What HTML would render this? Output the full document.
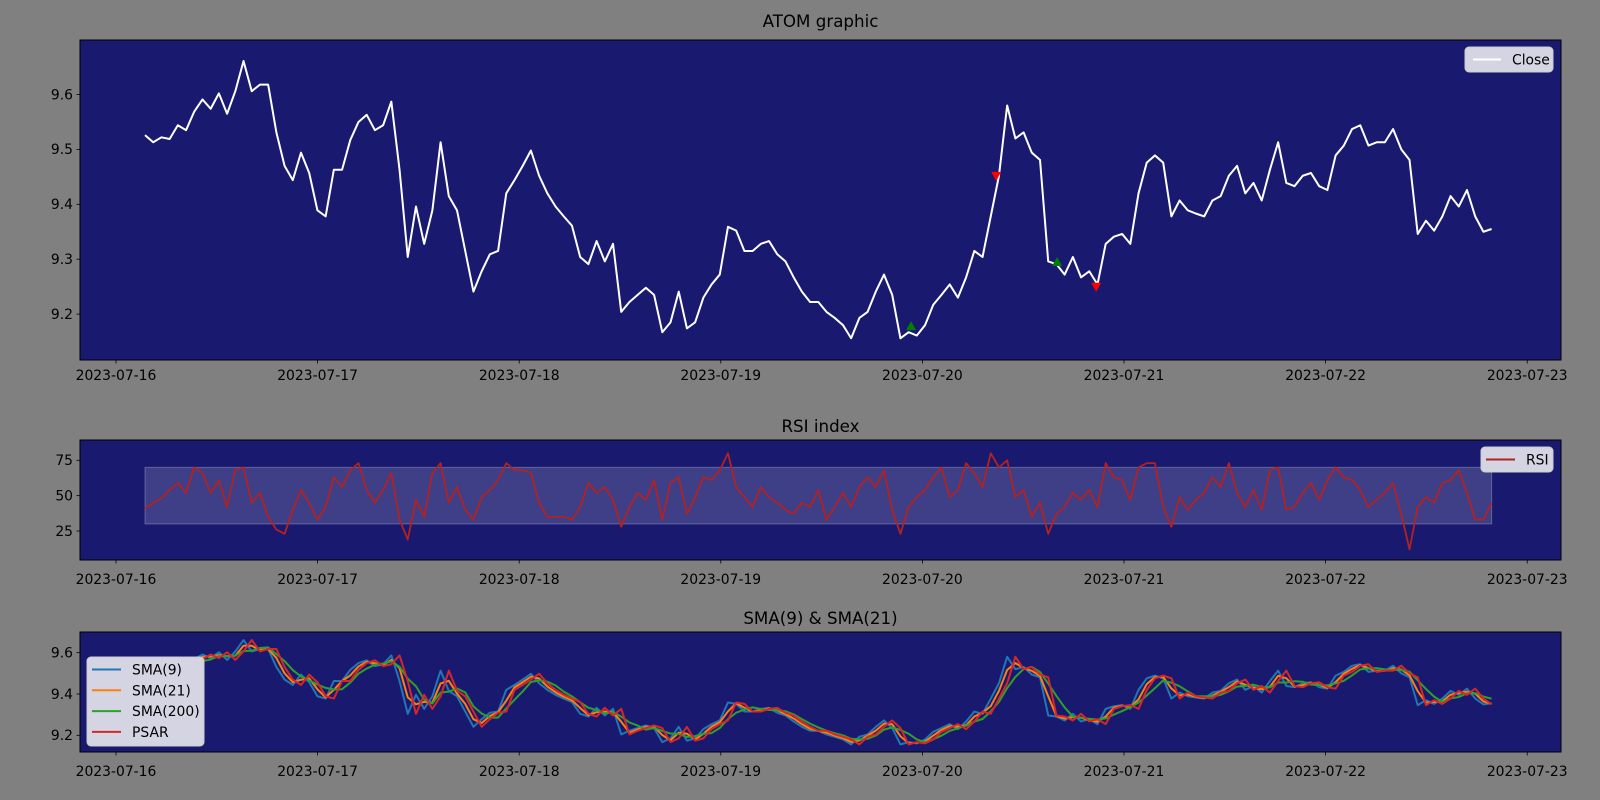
<!DOCTYPE html>
<html><head><meta charset="utf-8">
<style>
html,body{margin:0;padding:0;background:#808080;}
svg{display:block;font-family:"DejaVu Sans","Liberation Sans",sans-serif;}
</style></head>
<body>
<svg id="chart" width="1600" height="800" viewBox="0 0 1600 800" xmlns="http://www.w3.org/2000/svg">
<rect x="0" y="0" width="1600" height="800" fill="#808080"/>
</svg>
<script>
const dayLabels = ["2023-07-16","2023-07-17","2023-07-18","2023-07-19","2023-07-20","2023-07-21","2023-07-22","2023-07-23"];
const priceTicks = [9.2,9.3,9.4,9.5,9.6];
const smaTicks = [9.2,9.4,9.6];
const rsiTicks = [25,50,75];
const startDay = 0.1438;
const stepDay = 0.04073;
const closeValues = [9.526,9.513,9.522,9.519,9.544,9.535,9.569,9.591,9.574,9.602,9.565,9.606,9.661,9.606,9.618,9.618,9.531,9.470,9.444,9.494,9.457,9.389,9.378,9.463,9.463,9.517,9.550,9.563,9.535,9.544,9.587,9.463,9.304,9.396,9.328,9.389,9.513,9.415,9.389,9.315,
9.241,9.278,9.309,9.315,9.420,9.444,9.470,9.498,9.452,9.420,
9.396,9.378,9.361,9.304,9.291,9.333,9.296,9.328,9.204,9.222,
9.235,9.248,9.235,9.167,9.185,9.241,9.174,9.185,9.230,9.254,
9.272,9.359,9.352,9.315,9.315,9.328,9.333,9.309,9.296,9.267,
9.241,9.222,9.222,9.204,9.193,9.180,9.156,9.193,9.204,9.241,
9.272,9.235,9.156,9.167,9.161,9.180,9.217,9.235,9.254,9.230,
9.267,9.315,9.304,9.378,9.452,9.580,9.520,9.531,9.494,9.481,
9.296,9.291,9.272,9.304,9.267,9.278,9.254,9.328,9.341,9.346,
9.328,9.420,9.476,9.489,9.476,9.378,9.407,9.389,9.383,9.378,
9.407,9.415,9.452,9.470,9.420,9.439,9.407,9.463,9.513,9.439,
9.433,9.452,9.457,9.433,9.426,9.489,9.507,9.537,9.544,9.507,
9.513,9.513,9.537,9.500,9.481,9.346,9.370,9.352,9.378,9.415,
9.396,9.426,9.378,9.350,9.355];
const rsiValues = [41,45,48,54,59,52,70,66,52,61,42,68,70,45,52,35,26,23,40,54,45,33,42,63,56,68,73,54,45,54,66,33,19,47,35,66,73,45,56,40,
33,49,54,61,73,68,68,66,45,35,35,35,33,42,59,52,56,47,28,42,52,47,61,33,59,63,37,49,63,61,68,80,56,49,42,56,49,45,40,37,45,42,54,
33,42,52,42,56,63,56,68,40,23,42,49,54,63,70,49,54,73,66,56,80,70,75,49,54,35,45,23,37,42,52,47,54,42,73,63,61,47,70,73,73,42,28,49,40,47,52,63,56,73,52,42,54,40,68,70,40,42,52,59,47,61,70,63,61,54,42,47,52,59,37,12,42,49,45,59,61,68,52,33,33,45];
const sellSignalDays = [4.366, 4.862];
const sellSignalValues = [9.450, 9.248];
const buySignalDays = [3.9440, 4.6682];
const buySignalValues = [9.178, 9.295];

const NS = "http://www.w3.org/2000/svg";
const svg = document.getElementById('chart');
function mk(tag, attrs, parent){ const e=document.createElementNS(NS,tag); for(const k in attrs) e.setAttribute(k,attrs[k]); (parent||svg).appendChild(e); return e; }
const X0=80, X1=1561;
function xDay(d){ return 116 + d*201.6; }
function tOf(i){ return startDay + i*stepDay; }
const p1 = {top:40,bottom:360,y:v=>94.5+(9.6-v)*549};
const p2 = {top:440,bottom:560,y:r=>460.3+(75-r)*1.414};
const p3 = {top:632,bottom:752,y:v=>652.7+(9.6-v)*206.5};

function sma(arr,w){ return arr.map((v,i)=>{ const s=Math.max(0,i-w+1); let t=0; for(let k=s;k<=i;k++) t+=arr[k]; return t/(i-s+1); }); }
function lag(arr,n){ return arr.map((v,i)=>arr[Math.max(0,i-n)]); }
function pathOf(arr,yf){ return arr.map((v,i)=>(i?'L':'M')+xDay(tOf(i)).toFixed(2)+','+yf(v).toFixed(2)).join(' '); }

function axes(p, name, title, ticks, fmt, titleY, tickLabelY){
  const g = mk('g',{});  
  const bg = mk('rect',{x:X0,y:p.top,width:X1-X0,height:p.bottom-p.top,fill:'#191970'},g);
   
  const t = mk('text',{x:(X0+X1)/2,y:titleY,'text-anchor':'middle','font-size':'16.7',fill:'#000'},g);
  t.textContent = title;  
  ticks.forEach(v=>{ const yy=p.y(v);
    mk('line',{x1:X0-3.5,x2:X0,y1:yy,y2:yy,stroke:'#000','stroke-width':0.8},g);
    const l=mk('text',{x:X0-7,y:yy+4.8,'text-anchor':'end','font-size':'13.9',fill:'#000'},g);
    l.textContent = fmt(v);  
  });
  dayLabels.forEach((lab,d)=>{ const xx=xDay(d);
    mk('line',{x1:xx,x2:xx,y1:p.bottom,y2:p.bottom+3.5,stroke:'#000','stroke-width':0.8},g);
    const l=mk('text',{x:xx,y:tickLabelY,'text-anchor':'middle','font-size':'13.9',fill:'#000'},g);
    l.textContent = lab;  
  });
  return g;
}
function frame(p){ mk('rect',{x:X0,y:p.top,width:X1-X0,height:p.bottom-p.top,fill:'none',stroke:'#000','stroke-width':1}); }

// Panel 1
axes(p1,'price-panel','ATOM graphic',priceTicks,v=>v.toFixed(1),27,380);
const cl = mk('path',{d:pathOf(closeValues,p1.y),fill:'none',stroke:'#ffffff','stroke-width':2,'stroke-linejoin':'round'});
 
sellSignalDays.forEach((d,i)=>{ const x=xDay(d), y=p1.y(sellSignalValues[i]);
  const m=mk('path',{d:`M${x-5},${y-5} L${x+5},${y-5} L${x},${y+4} Z`,fill:'#ff0000'});
    });
buySignalDays.forEach((d,i)=>{ const x=xDay(d), y=p1.y(buySignalValues[i]);
  const m=mk('path',{d:`M${x-5},${y+4} L${x+5},${y+4} L${x},${y-5} Z`,fill:'#008000'});
    });
frame(p1);
const lg1 = mk('g',{});  
mk('rect',{x:1465,y:47,width:88,height:25,rx:4,fill:'#d4d4e3',stroke:'#cccccc'},lg1);
mk('line',{x1:1473,x2:1501,y1:59.5,y2:59.5,stroke:'#fff','stroke-width':2},lg1);
const lt1=mk('text',{x:1512,y:64.5,'font-size':'13.9'},lg1); lt1.textContent='Close';

// Panel 2
axes(p2,'rsi-panel','RSI index',rsiTicks,v=>String(v),432,584);
const band = mk('rect',{x:xDay(tOf(0)),y:p2.y(70),width:xDay(tOf(rsiValues.length-1))-xDay(tOf(0)),height:p2.y(30)-p2.y(70),fill:'rgba(255,255,255,0.17)',stroke:'rgba(255,255,255,0.25)','stroke-width':1});
 
const rl = mk('path',{d:pathOf(rsiValues,p2.y),fill:'none',stroke:'#b22222','stroke-width':1.8,'stroke-linejoin':'round'});
 
frame(p2);
const lg2 = mk('g',{});  
mk('rect',{x:1481,y:447,width:72,height:25,rx:4,fill:'#d4d4e3',stroke:'#cccccc'},lg2);
mk('line',{x1:1486,x2:1515,y1:459.5,y2:459.5,stroke:'#b22222','stroke-width':2},lg2);
const lt2=mk('text',{x:1526,y:464.5,'font-size':'13.9'},lg2); lt2.textContent='RSI';

// Panel 3
axes(p3,'sma-panel','SMA(9) & SMA(21)',smaTicks,v=>v.toFixed(1),624,776);
const sma9 = closeValues.slice();
const sma21 = sma(closeValues,2);
const sma200 = sma(closeValues,4);
const psar = lag(closeValues,1);
[[sma9,'#1f77b4','sma9-line'],[sma21,'#ff7f0e','sma21-line'],[sma200,'#2ca02c','sma200-line'],[psar,'#d62728','psar-line']].forEach(s=>{
  const e=mk('path',{d:pathOf(s[0],p3.y),fill:'none',stroke:s[1],'stroke-width':2,'stroke-linejoin':'round'});
   
});
frame(p3);
const lg3 = mk('g',{});  
mk('rect',{x:87,y:657,width:117,height:89,rx:4,fill:'#d4d4e3',stroke:'#cccccc'},lg3);
[['SMA(9)','#1f77b4'],['SMA(21)','#ff7f0e'],['SMA(200)','#2ca02c'],['PSAR','#d62728']].forEach((e,i)=>{
  const yy=669.5+i*20.8;
  mk('line',{x1:92,x2:121,y1:yy,y2:yy,stroke:e[1],'stroke-width':2},lg3);
  const t=mk('text',{x:132,y:yy+5,'font-size':'13.9'},lg3); t.textContent=e[0];
});
</script>
</body></html>
